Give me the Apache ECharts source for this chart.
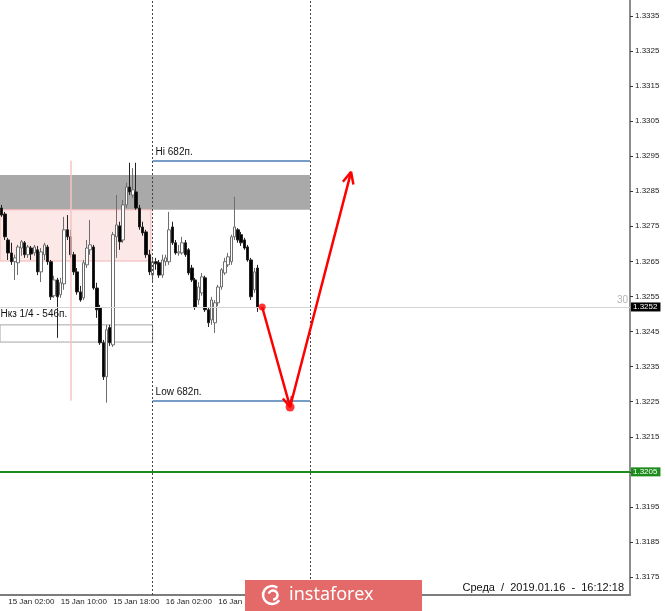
<!DOCTYPE html>
<html><head><meta charset="utf-8">
<script src="https://cdn.jsdelivr.net/npm/echarts@6/dist/echarts.min.js"></script>
<style>html,body{margin:0;padding:0;background:#fff}#c{width:665px;height:611px}</style>
</head><body><div id="c"></div>
<script>
// ---- data ----
const slotCount = 192; // 30-minute slots shown on the time axis (incl. empty future space)
const startTime = Date.UTC(2019, 0, 15, 1, 0);
const categories = [];
for (let i = 0; i < slotCount; i++) {
  const d = new Date(startTime + i * 1800000);
  categories.push(d.getUTCDate() + ' Jan ' + String(d.getUTCHours()).padStart(2, '0') + ':' + String(d.getUTCMinutes()).padStart(2, '0'));
}
const xTickLabels = ['15 Jan 02:00', '15 Jan 10:00', '15 Jan 18:00', '16 Jan 02:00', '16 Jan 10:00'];
const yTicks = [1.3175, 1.3185, 1.3195, 1.3205, 1.3215, 1.3225, 1.3235, 1.3245, 1.3255, 1.3265, 1.3275, 1.3285, 1.3295, 1.3305, 1.3315, 1.3325, 1.3335];
const yMin = 1.31699, yMax = 1.33395;

// [open, close, low, high]
const candles = [
 [1.32802,1.32782,1.32777,1.32811],[1.32785,1.32720,1.32711,1.32791],[1.32711,1.32674,1.32654,1.32717],
 [1.32674,1.32649,1.32640,1.32703],[1.32649,1.32660,1.32597,1.32669],[1.32646,1.32691,1.32611,1.32697],
 [1.32688,1.32706,1.32666,1.32711],[1.32703,1.32669,1.32660,1.32708],[1.32669,1.32691,1.32660,1.32697],
 [1.32688,1.32671,1.32654,1.32694],[1.32674,1.32691,1.32666,1.32697],[1.32683,1.32620,1.32611,1.32694],
 [1.32620,1.32677,1.32591,1.32688],[1.32669,1.32697,1.32654,1.32703],[1.32691,1.32649,1.32640,1.32697],
 [1.32649,1.32549,1.32540,1.32654],[1.32552,1.32597,1.32546,1.32609],[1.32597,1.32549,1.32432,1.32603],
 [1.32555,1.32589,1.32546,1.32603],[1.32586,1.32740,1.32569,1.32777],[1.32740,1.32720,1.32711,1.32782],
 [1.32720,1.32669,1.32660,1.32740],[1.32669,1.32620,1.32611,1.32677],[1.32620,1.32563,1.32555,1.32631],
 [1.32563,1.32540,1.32535,1.32580],[1.32546,1.32646,1.32540,1.32654],[1.32640,1.32688,1.32631,1.32711],
 [1.32683,1.32697,1.32669,1.32768],[1.32691,1.32574,1.32569,1.32697],[1.32574,1.32512,1.32489,1.32589],
 [1.32518,1.32418,1.32412,1.32526],[1.32418,1.32321,1.32312,1.32426],[1.32321,1.32455,1.32247,1.32469],
 [1.32461,1.32418,1.32409,1.32469],[1.32412,1.32726,1.32406,1.32734],[1.32720,1.32754,1.32660,1.32839],
 [1.32751,1.32706,1.32683,1.32763],[1.32711,1.32811,1.32703,1.32825],[1.32811,1.32862,1.32802,1.32874],
 [1.32862,1.32848,1.32839,1.32931],[1.32839,1.32854,1.32831,1.32916],[1.32848,1.32802,1.32797,1.32931],
 [1.32802,1.32748,1.32740,1.32811],[1.32748,1.32731,1.32723,1.32763],[1.32734,1.32669,1.32660,1.32740],
 [1.32669,1.32620,1.32611,1.32683],[1.32611,1.32649,1.32591,1.32660],[1.32649,1.32643,1.32626,1.32660],
 [1.32646,1.32611,1.32603,1.32654],[1.32611,1.32654,1.32603,1.32669],[1.32649,1.32660,1.32637,1.32669],
 [1.32649,1.32740,1.32640,1.32791],[1.32748,1.32703,1.32697,1.32763],[1.32703,1.32674,1.32669,1.32711],
 [1.32674,1.32677,1.32666,1.32697],[1.32674,1.32703,1.32669,1.32720],[1.32703,1.32669,1.32663,1.32711],
 [1.32683,1.32617,1.32611,1.32688],[1.32631,1.32597,1.32591,1.32640],[1.32597,1.32520,1.32512,1.32603],
 [1.32540,1.32577,1.32526,1.32591],[1.32560,1.32606,1.32552,1.32617],[1.32603,1.32512,1.32506,1.32609],
 [1.32512,1.32475,1.32463,1.32518],[1.32483,1.32540,1.32469,1.32549],[1.32475,1.32532,1.32446,1.32540],
 [1.32532,1.32577,1.32523,1.32583],[1.32577,1.32626,1.32569,1.32631],[1.32617,1.32649,1.32611,1.32660],
 [1.32640,1.32663,1.32634,1.32674],[1.32649,1.32720,1.32640,1.32726],[1.32720,1.32748,1.32711,1.32834],
 [1.32740,1.32711,1.32703,1.32745],[1.32726,1.32703,1.32694,1.32734],[1.32711,1.32688,1.32683,1.32717],
 [1.32691,1.32654,1.32649,1.32697],[1.32654,1.32549,1.32540,1.32660],[1.32569,1.32620,1.32560,1.32631],
 [1.32631,1.32518,1.32506,1.32640]
];

const bidPrice = 1.3252;
const supportLevel = 1.3205;
const daySeparators = [46, 94];          // slot index of 16 Jan 00:00 and 17 Jan 00:00
const hiLevel = 1.32937, lowLevel = 1.32253;
const hiLowRange = [46, 94];
const grayZone = { x: [-0.5, 94], y: [1.32896, 1.32797] };
const pinkZone = { x: [-0.5, 45.5], y: [1.32797, 1.32651] };
const nkzZone = { x: [-0.5, 46], y: [1.32469, 1.32420] };
const pinkMarker = { x: 21.2, y: [1.32937, 1.32253] };
const arrowPath = [[79.4, 1.32520], [87.9, 1.32235], [106.5, 1.32905]];
const arrowHeadLow = [[85.7, 1.32259], [87.9, 1.32235], [88.5, 1.32266]];
const arrowHeadHigh = [[104.0, 1.32877], [106.5, 1.32905], [107.2, 1.32869]];
const arrowDots = [[79.4, 1.32520, 7], [87.9, 1.32235, 9]];

// ---- chart ----
const FONT = 'Liberation Sans';
const chart = echarts.init(document.getElementById('c'), null, { renderer: 'canvas' });
const labelFilter = (i, v) => xTickLabels.indexOf(v) >= 0;
const redLine = (data) => ({
  type: 'line', xAxisIndex: 1, data: data, symbol: 'none', z: 6, silent: true,
  lineStyle: { color: '#ff0000', width: 2.5 }, animation: false
});
const priceTag = (bg) => ({
  show: true, position: 'end', formatter: p => Number(p.value).toFixed(4), backgroundColor: bg, color: '#fff',
  fontSize: 8, fontFamily: FONT, padding: [1, 3, 0, 2], distance: 1
});

chart.setOption({
  animation: false,
  backgroundColor: '#ffffff',
  grid: { left: 0, right: 35, top: 0, bottom: 16 },
  xAxis: [{
    type: 'category', data: categories, boundaryGap: true,
    axisLine: { onZero: false, lineStyle: { color: '#7c7c7c', width: 2 } },
    axisTick: { alignWithLabel: true, interval: labelFilter, length: 4, lineStyle: { color: '#333' } },
    axisLabel: { interval: labelFilter, align: 'left', fontSize: 8, fontFamily: FONT, color: '#222', margin: 3 },
    splitLine: { show: false }
  }, {
    type: 'value', min: -0.5, max: slotCount - 0.5, show: false
  }],
  yAxis: {
    type: 'value', position: 'right', min: yMin, max: yMax, scale: true,
    axisLine: { show: true, onZero: false, lineStyle: { color: '#8c8c8c', width: 2 } },
    axisTick: { show: true, length: 3, customValues: yTicks, lineStyle: { color: '#333' } },
    axisLabel: { customValues: yTicks, formatter: v => v.toFixed(4), fontSize: 8, fontFamily: FONT, color: '#222', margin: 5 },
    splitLine: { show: false }
  },
  series: [
    { // background annotations
      type: 'line', xAxisIndex: 1, data: [], z: 1, silent: true,
      markArea: {
        silent: true, label: { show: false },
        data: [
          [{ coord: [grayZone.x[0], grayZone.y[0]], itemStyle: { color: '#a9a9a9' } }, { coord: [grayZone.x[1], grayZone.y[1]] }],
          [{ coord: [pinkZone.x[0], pinkZone.y[0]], itemStyle: { color: '#fde8e8', borderColor: '#f3b4b4', borderWidth: 1 } }, { coord: [pinkZone.x[1], pinkZone.y[1]] }],
          [{ coord: [nkzZone.x[0], nkzZone.y[0]], itemStyle: { color: 'rgba(0,0,0,0)', borderColor: '#a6a6a6', borderWidth: 1 },
             label: { show: true, formatter: 'Нкз 1/4 - 546п.', position: [1, -15], fontSize: 10, fontFamily: FONT, color: '#111' } },
           { coord: [nkzZone.x[1], nkzZone.y[1]] }]
        ]
      },
      markLine: {
        silent: true, symbol: 'none', precision: 5, label: { show: false },
        data: [
          { yAxis: bidPrice, lineStyle: { color: '#d4d4d4', width: 1, type: 'solid' }, label: priceTag('#000000') },
          { xAxis: daySeparators[0], lineStyle: { color: '#444', width: 1, type: [2, 2] } },
          { xAxis: daySeparators[1], lineStyle: { color: '#444', width: 1, type: [2, 2] } },
          [{ coord: [pinkMarker.x, pinkMarker.y[0]], lineStyle: { color: '#f7c4c4', width: 1.5, type: 'solid' } }, { coord: [pinkMarker.x, pinkMarker.y[1]] }]
        ]
      }
    },
    {
      type: 'candlestick', xAxisIndex: 0, data: candles, barWidth: 3, z: 3,
      itemStyle: { color: '#ffffff', color0: '#000000', borderColor: '#6e6e6e', borderColor0: '#222222', borderWidth: 1 }
    },
    { // foreground annotations
      type: 'line', xAxisIndex: 1, data: [], z: 5, silent: true,
      markLine: {
        silent: true, symbol: 'none', precision: 5, label: { show: false },
        data: [
          [{ coord: [hiLowRange[0], hiLevel], lineStyle: { color: '#4a7db5', width: 1.5, type: 'solid' },
             label: { show: true, position: 'insideStartTop', formatter: 'Hi 682п.', fontSize: 10, fontFamily: FONT, color: '#111', distance: 3 } },
           { coord: [hiLowRange[1], hiLevel] }],
          [{ coord: [hiLowRange[0], lowLevel], lineStyle: { color: '#4a7db5', width: 1.5, type: 'solid' },
             label: { show: true, position: 'insideStartTop', formatter: 'Low 682п.', fontSize: 10, fontFamily: FONT, color: '#111', distance: 3 } },
           { coord: [hiLowRange[1], lowLevel] }],
          { yAxis: supportLevel, lineStyle: { color: '#1c8c1c', width: 2, type: 'solid' }, label: priceTag('#1c8c1c') },
          { yAxis: bidPrice, lineStyle: { color: 'rgba(255,255,255,0)', width: 1 },
            label: { show: true, position: 'insideEndTop', formatter: '30', color: '#b4b4b4', fontSize: 10, fontFamily: FONT, distance: 2 } }
        ]
      }
    },
    redLine(arrowPath),
    redLine(arrowHeadLow),
    redLine(arrowHeadHigh),
    {
      type: 'scatter', xAxisIndex: 1, data: arrowDots, z: 7, silent: true,
      symbolSize: v => v[2], itemStyle: { color: '#ff0000' }
    }
  ],
  graphic: [
    { type: 'rect', z: 100, shape: { x: 245, y: 580, width: 177, height: 31 }, style: { fill: '#e46a6a' } },
    { type: 'arc', z: 101, shape: { cx: 272, cy: 595, r: 9, startAngle: 0.2 * Math.PI, endAngle: 1.7 * Math.PI }, style: { stroke: '#fff', lineWidth: 2.5, fill: null } },
    { type: 'arc', z: 101, shape: { cx: 273, cy: 595, r: 4.5, startAngle: 1.1 * Math.PI, endAngle: 2.5 * Math.PI }, style: { stroke: '#fff', lineWidth: 2.5, fill: null } },
    { type: 'text', z: 101, x: 289, y: 595, style: { text: 'instaforex', fill: '#fff', font: '18px "Noto Sans"', textVerticalAlign: 'middle' } },
    { type: 'text', z: 101, x: 624, y: 588, style: { text: 'Среда  /  2019.01.16  -  16:12:18', fill: '#111', font: '11px "Liberation Sans"', textAlign: 'right', textVerticalAlign: 'middle' } }
  ]
});
</script></body></html>
